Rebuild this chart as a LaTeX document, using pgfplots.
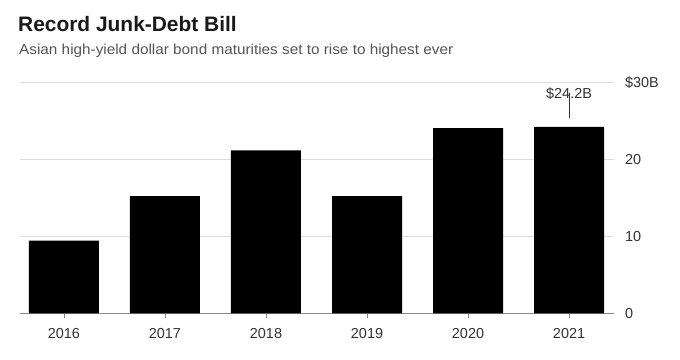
\documentclass[border=0pt]{standalone}
\usepackage{pgfplots}
\pgfplotsset{compat=1.18}
\usepackage{fontspec}
\setmainfont{Liberation Sans}
\definecolor{gridc}{HTML}{DDDDDD}
\definecolor{axc}{HTML}{888888}
\definecolor{txt}{HTML}{333333}
\definecolor{sub}{HTML}{555555}
\begin{document}
\begin{tikzpicture}
\path[fill=white] (0,0) rectangle (680bp,360bp);
\node[anchor=base west, inner sep=0pt, font=\fontsize{21}{24}\selectfont\bfseries, text=black!90] at (18bp,328bp) {Record Junk-Debt Bill};
\node[anchor=base west, inner sep=0pt, font=\fontsize{14.5}{16}\selectfont\addfontfeature{FakeStretch=1.06}, text=sub] at (19bp,305bp) {Asian high-yield dollar bond maturities set to rise to highest ever};
\begin{axis}[
  at={(19.5bp,46.7bp)}, anchor=south west,
  scale only axis, width=594bp, height=230.6bp,
  xmin=-0.44, xmax=5.44, ymin=0, ymax=30,
  axis x line*=bottom, axis y line*=right,
  y axis line style={draw=none},
  x axis line style={draw=axc, line width=0.8pt},
  xtick=data, xticklabels={2016,2017,2018,2019,2020,2021},
  ytick={0,10,20,30}, yticklabels={0,10,20,\$30B},
  ymajorgrids, grid style={gridc, line width=0.8pt},
  ytick style={draw=none},
  xtick style={draw=axc, line width=0.8pt},
  tick align=outside, major tick length=5bp,
  every tick label/.append style={font=\fontsize{14.5}{16}\selectfont, text=txt},
  yticklabel style={anchor=west, xshift=3bp},
  xticklabel style={yshift=-7bp},
  /pgf/number format/assume math mode=true,
  clip=false,
]
\addplot[ybar, bar width=70bp, fill=black, draw=none] coordinates {
  (0,9.45) (1,15.25) (2,21.2) (3,15.25) (4,24.1) (5,24.25)};
\draw[black!80, line width=0.8pt] (axis cs:5,25.4) -- (axis cs:5,28.6);
\node[font=\fontsize{14.5}{16}\selectfont, text=txt] at (axis cs:5,28.6) {\$24.2B};
\end{axis}
\end{tikzpicture}
\end{document}
